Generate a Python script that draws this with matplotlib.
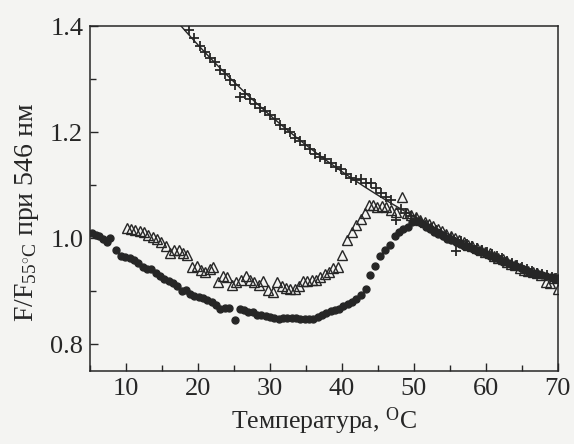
import numpy as np
import matplotlib
matplotlib.use("Agg")
import matplotlib.pyplot as plt

plt.rcParams['font.family'] = ['Liberation Serif', 'DejaVu Serif']
plt.rcParams['mathtext.fontset'] = 'custom'
plt.rcParams['mathtext.rm'] = 'Liberation Serif'
plt.rcParams['mathtext.it'] = 'Liberation Serif:italic'

# crosses (with fit line)
t_cross = [18.8, 19.5, 20.2, 20.9, 21.6, 22.3, 23.0, 23.7, 24.4, 25.1, 25.8, 26.5, 27.2, 27.9,
           28.6, 29.3, 30.0, 30.7, 31.4, 32.1, 32.8, 33.5, 34.2, 34.9, 35.6, 36.3, 37.0, 37.7,
           38.4, 39.1, 39.8, 40.5, 41.2, 41.9, 42.6, 43.3, 44.0, 44.7, 45.4, 46.1, 46.8, 47.5,
           48.2, 48.9, 49.6, 50.3, 51.0, 51.7, 52.4, 53.1, 53.8, 54.5, 55.2, 55.9, 56.6, 57.3,
           58.0, 58.7, 59.4, 60.1, 60.8, 61.5, 62.2, 62.9, 63.6, 64.3, 65.0, 65.7, 66.4, 67.1,
           67.8, 68.5, 69.2, 69.8]
f_cross = [1.392, 1.378, 1.362, 1.352, 1.340, 1.332, 1.318, 1.310, 1.298, 1.290, 1.266, 1.272, 1.262, 1.254,
           1.246, 1.240, 1.232, 1.224, 1.214, 1.206, 1.200, 1.190, 1.184, 1.176, 1.168, 1.158, 1.154, 1.150,
           1.142, 1.134, 1.130, 1.122, 1.114, 1.110, 1.112, 1.104, 1.104, 1.094, 1.086, 1.078, 1.072, 1.035,
           1.056, 1.048, 1.042, 1.036, 1.030, 1.025, 1.020, 1.015, 1.010, 1.004, 1.000, 0.975, 0.994, 0.990,
           0.986, 0.982, 0.978, 0.974, 0.970, 0.966, 0.962, 0.957, 0.953, 0.949, 0.945, 0.942, 0.938, 0.935,
           0.932, 0.930, 0.927, 0.925]

# filled circles
t_circ = [5.3, 5.8, 6.3, 6.8, 7.3, 7.8, 8.6, 9.3, 9.9, 10.5, 11.1, 11.7, 12.3, 12.9, 13.5, 14.1,
          14.7, 15.3, 15.9, 16.5, 17.1, 17.7, 18.3, 18.9, 19.5, 20.1, 20.7, 21.3, 21.9, 22.5, 23.1,
          23.7, 24.3, 25.1, 25.8, 26.4, 27.0, 27.6, 28.2, 28.8, 29.4, 30.0, 30.6, 31.2, 31.8, 32.4,
          33.0, 33.6, 34.2, 34.8, 35.4, 36.0, 36.6, 37.2, 37.8, 38.4, 39.0, 39.6, 40.2, 40.8, 41.4,
          42.0, 42.6, 43.3, 43.9, 44.6, 45.3, 46.0, 46.6, 47.3, 47.9, 48.5, 49.1, 49.7, 50.4, 51.0,
          51.6, 52.2, 52.8, 53.4, 54.0, 54.6, 55.2, 55.8, 56.4, 57.0, 57.6, 58.2, 58.8, 59.4, 60.0,
          60.6, 61.2, 61.8, 62.4, 63.0, 63.6, 64.2, 64.8, 65.4, 66.0, 66.6, 67.2, 67.8, 68.4, 69.0,
          69.6, 70.0]
f_circ = [1.010, 1.007, 1.004, 0.998, 0.993, 1.000, 0.977, 0.967, 0.965, 0.962, 0.958, 0.953, 0.946, 0.941, 0.941, 0.934,
          0.928, 0.924, 0.919, 0.915, 0.910, 0.900, 0.902, 0.895, 0.891, 0.890, 0.887, 0.884, 0.879, 0.874, 0.866,
          0.869, 0.868, 0.845, 0.866, 0.864, 0.861, 0.860, 0.856, 0.855, 0.853, 0.852, 0.850, 0.847, 0.849, 0.849,
          0.849, 0.849, 0.848, 0.848, 0.848, 0.847, 0.852, 0.856, 0.858, 0.862, 0.864, 0.867, 0.873, 0.876, 0.880,
          0.886, 0.893, 0.905, 0.930, 0.948, 0.966, 0.978, 0.988, 1.004, 1.012, 1.018, 1.022, 1.030, 1.032, 1.028,
          1.022, 1.018, 1.012, 1.008, 1.004, 0.998, 0.996, 0.992, 0.990, 0.986, 0.984, 0.980, 0.976, 0.974, 0.970,
          0.967, 0.962, 0.960, 0.956, 0.953, 0.950, 0.947, 0.944, 0.940, 0.937, 0.934, 0.932, 0.930, 0.928, 0.926,
          0.924, 0.925]

# open triangles
t_tri = [10.1, 10.7, 11.3, 11.9, 12.5, 13.1, 13.7, 14.3, 14.9, 15.5, 16.1, 16.7, 17.3, 17.9, 18.5,
         19.2, 19.8, 20.4, 21.0, 21.6, 22.1, 22.8, 23.4, 24.0, 24.7, 25.3, 25.9, 26.6, 27.2, 27.8,
         28.4, 29.0, 29.7, 30.4, 31.0, 31.6, 32.2, 32.8, 33.4, 34.0, 34.6, 35.2, 35.8, 36.4, 37.0,
         37.6, 38.2, 38.8, 39.4, 40.0, 40.7, 41.4, 42.0, 42.6, 43.2, 43.8, 44.3, 44.8, 45.5, 46.1,
         46.8, 47.5, 48.4, 49.0, 49.6, 50.3, 50.9, 51.5, 52.1, 52.7, 53.3, 53.9, 54.5, 55.1, 55.7,
         56.3, 56.9, 57.5, 58.1, 58.7, 59.3, 59.9, 60.5, 61.1, 61.7, 62.3, 62.9, 63.5, 64.1, 64.7,
         65.3, 65.9, 66.5, 67.1, 67.7, 68.3, 68.9, 69.5, 70.0]
f_tri = [1.020, 1.017, 1.015, 1.013, 1.012, 1.006, 1.002, 0.998, 0.993, 0.985, 0.973, 0.978, 0.977, 0.972, 0.968,
         0.945, 0.948, 0.940, 0.937, 0.941, 0.946, 0.917, 0.928, 0.926, 0.912, 0.918, 0.922, 0.929, 0.922, 0.918,
         0.912, 0.920, 0.903, 0.898, 0.918, 0.910, 0.906, 0.904, 0.905, 0.909, 0.920, 0.920, 0.921, 0.922, 0.927,
         0.932, 0.937, 0.944, 0.946, 0.969, 0.997, 1.012, 1.025, 1.036, 1.048, 1.063, 1.062, 1.058, 1.060, 1.058,
         1.054, 1.050, 1.077, 1.048, 1.044, 1.040, 1.034, 1.030, 1.026, 1.024, 1.018, 1.014, 1.008, 1.004, 1.000,
         0.996, 0.992, 0.988, 0.986, 0.982, 0.978, 0.974, 0.972, 0.966, 0.962, 0.960, 0.955, 0.952, 0.950, 0.944,
         0.940, 0.938, 0.936, 0.934, 0.930, 0.918, 0.915, 0.925, 0.905]

ink = '#262626'
paper = '#f4f4f2'

fig = plt.figure(figsize=(5.74, 4.44), dpi=100, facecolor=paper)
ax = fig.add_axes([0.157, 0.165, 0.815, 0.776], facecolor=paper)

# smooth fit through the crosses, outliers left out
tc = np.array(t_cross)
fc = np.array(f_cross)
keep = np.abs(fc - np.polyval(np.polyfit(tc, fc, 3), tc)) < 0.015
coef = np.polyfit(tc[keep], fc[keep], 3)
tt = np.linspace(17, 70, 200)
ax.plot(tt, np.polyval(coef, tt), '-', color=ink, lw=1.0)

ax.plot(t_cross, f_cross, '+', color=ink, ms=7.5, mew=1.3)
ax.plot(t_circ, f_circ, 'o', color=ink, ms=5, mec=ink)
ax.plot(t_tri, f_tri, '^', mfc='none', mec=ink, ms=6.5, mew=1.0)

ax.set_xlim(5, 70)
ax.set_ylim(0.75, 1.4)
ax.set_xticks([10, 20, 30, 40, 50, 60, 70])
ax.set_xticks(np.arange(5, 70, 5), minor=True)
ax.set_yticks([0.8, 1.0, 1.2, 1.4])
ax.set_yticks([0.9, 1.1, 1.3], minor=True)
ax.set_yticklabels(['0.8', '1.0', '1.2', '1.4'])

ax.tick_params(which='both', direction='in', color=ink, labelcolor=ink, labelsize=19, top=False, right=False)
ax.tick_params(which='major', length=6, width=1, pad=5)
ax.tick_params(which='minor', length=4, width=1)
for s in ax.spines.values():
    s.set_color(ink)
    s.set_linewidth(1.1)

ax.set_xlabel('Температура, $^{\\mathrm{O}}$C', fontsize=18.5, color=ink, labelpad=4)
ax.set_ylabel('F/F$_{55^{\\circ}\\mathrm{C}}$ при 546 нм', fontsize=20, color=ink)
ax.yaxis.set_label_coords(-0.105, 0.46)

fig.savefig('out.png', dpi=100, facecolor=paper)
